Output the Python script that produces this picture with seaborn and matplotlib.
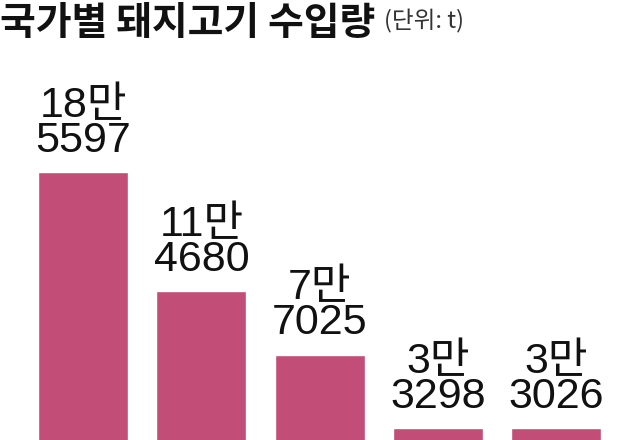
import matplotlib
matplotlib.use("Agg")
import matplotlib.pyplot as plt
import seaborn as sns
import pandas as pd

# data (단위: t)
countries = ["A", "B", "C", "D", "E"]
imports = [185597, 114680, 77025, 33298, 33026]

title = "국가별 돼지고기 수입량"
unit = "(단위: t)"
bar_color = "#C24D77"

sns.set_theme(style="white")
plt.rcParams["font.family"] = ["Liberation Sans", "Noto Sans CJK KR", "DejaVu Sans"]

df = pd.DataFrame({"country": countries, "imports": imports})

fig = plt.figure(figsize=(6.4, 4.4), dpi=100)
# axes reach below the picture so the bars look cut at the bottom
ax = fig.add_axes([0.0375, -0.1, 0.924, 1.1])
sns.barplot(data=df, x="country", y="imports", color=bar_color,
            width=0.76, saturation=1, ax=ax)
ax.set_ylim(0, 288000)
ax.set_xlim(-0.5, 4.5)
ax.axis("off")

for i, v in enumerate(imports):
    ax.annotate(f"{v // 10000}만\n{v % 10000}", xy=(i, v), xytext=(0, 8),
                textcoords="offset points", ha="center", va="bottom",
                fontsize=31, linespacing=0.84, color="#111111",
                family=["Liberation Sans", "Noto Sans CJK KR"])

fig.text(0.0, 0.99, title, ha="left", va="top", fontsize=28, fontweight="bold",
         color="#111111", family=["Noto Sans CJK KR", "DejaVu Sans"])
fig.text(0.6, 0.978, unit, ha="left", va="top", fontsize=17,
         color="#333333", family=["Noto Sans CJK KR", "DejaVu Sans"])

fig.savefig("out.png", dpi=100)
